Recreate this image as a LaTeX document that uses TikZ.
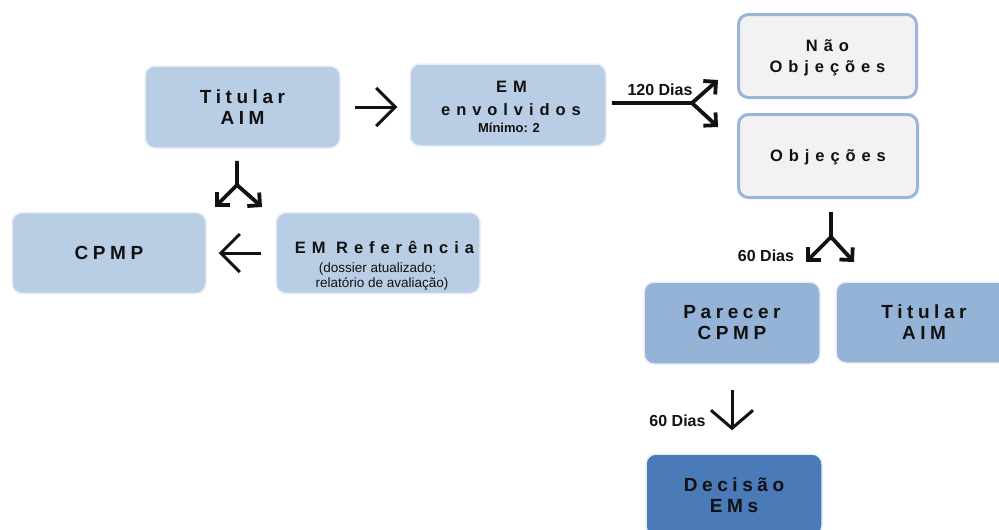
\documentclass[tikz,border=0pt]{standalone}
\usepackage{fontspec}
\setmainfont{Liberation Sans}
\newfontfamily\widefont[LetterSpace=24]{Liberation Sans}
\newfontfamily\widerfont[LetterSpace=36]{Liberation Sans}
\usetikzlibrary{arrows.meta}

\definecolor{boxlight}{HTML}{B9CDE5}
\definecolor{boxmid}{HTML}{95B3D7}
\definecolor{boxdark}{HTML}{4A7AB8}
\definecolor{boxgray}{HTML}{F2F2F2}
\definecolor{boxedge}{HTML}{9BB5D8}
\definecolor{halo}{HTML}{E9EFF7}
\definecolor{ink}{HTML}{111111}

\tikzset{
  box/.style={rectangle, rounded corners=10pt, inner sep=0pt, align=center,
    text=ink, draw=halo, line width=1.5pt},
  outlined/.style={box, fill=boxgray, draw=boxedge, line width=3pt},
  bigtext/.style={font=\widefont\bfseries\fontsize{19}{21}\selectfont},
  midtext/.style={font=\widerfont\bfseries\fontsize{16.5}{21}\selectfont, text=ink, inner sep=0pt},
  smalltext/.style={font=\fontsize{13.5}{14}\selectfont, text=ink, inner sep=0pt},
  daylabel/.style={font=\bfseries\fontsize{16}{16}\selectfont, text=ink, inner sep=0pt},
  thinarrow/.style={draw=ink, line width=3pt,
    -{Straight Barb[length=19pt,width=38pt,line join=miter,line cap=butt]}},
  fork/.style={draw=ink, line width=3.8pt},
  forktip/.style={-{Straight Barb[length=9pt,width=18pt,line join=miter,line cap=butt]}}
}

\begin{document}
\begin{tikzpicture}[x=1pt,y=-1pt]
\useasboundingbox (0,0) rectangle (999,530);
\clip (0,0) rectangle (999,530);

% boxes
\node[box, fill=boxlight, bigtext, minimum width=195pt, minimum height=82pt] (tit1) at (242.5,107) {Titular\\AIM};
\node[box, fill=boxlight, minimum width=196pt, minimum height=82pt] (emenv) at (508,105) {};
\node[box, fill=boxlight, bigtext, minimum width=194pt, minimum height=81pt] (cpmp) at (109,253) {CPMP};
\node[box, fill=boxlight, minimum width=204pt, minimum height=81pt] (emref) at (378,253) {};
\node[outlined, midtext, text depth=0pt, minimum width=178pt, minimum height=83pt] (nao) at (827.5,56) {Não\\Objeções};
\node[outlined, midtext, text depth=0pt, minimum width=179pt, minimum height=83pt] (obj) at (828,156) {Objeções};
\node[box, fill=boxmid, bigtext, minimum width=176pt, minimum height=82pt] (parecer) at (732,323) {Parecer\\CPMP};
\node[box, fill=boxmid, bigtext, minimum width=176pt, minimum height=81pt] (tit2) at (924,322.5) {Titular\\AIM};
\node[box, fill=boxdark, bigtext, minimum width=176pt, minimum height=82pt] (decisao) at (734,495) {Decisão\\EMs};

% texts set line by line
\node[midtext, anchor=base] (emenvA) at (511.5,92.7) {EM};
\node[midtext, anchor=base] (emenvB) at (511,115) {envolvidos};
\node[smalltext, font=\bfseries\fontsize{13}{14}\selectfont, anchor=base] (emenvC) at (509,132.3) {Mínimo: 2};
\node[midtext, anchor=base] (emrefA) at (384.5,253.3) {EM Referência};
\node[smalltext, anchor=base] (emrefB) at (377.5,272.7) {(dossier atualizado;};
\node[smalltext, anchor=base] (emrefC) at (382,287) {relatório de avaliação)};

% simple arrows
\draw[thinarrow, shorten <=14pt, shorten >=12pt] (tit1.east) -- (tit1.east -| emenv.west);
\draw[thinarrow, shorten <=14pt, shorten >=12pt] (emref.west) -- (emref.west -| cpmp.east);
\draw[thinarrow, -{Straight Barb[length=18pt,width=42pt,line join=miter,line cap=butt]},
  shorten <=25pt, shorten >=23pt] (parecer.south) -- (parecer.south |- decisao.north);

% forked arrows
\coordinate (j1) at (237,185);
\coordinate (j1l) at (215,207);
\coordinate (j1r) at (262,207);
\draw[fork, forktip, shorten <=12pt] (tit1.south -| j1) -- (j1) -- (j1l);
\draw[fork, forktip] (j1) -- (j1r);

\coordinate (j2) at (692,103);
\coordinate (j2u) at (718,80);
\coordinate (j2d) at (718,127);
\draw[fork, forktip, shorten <=5pt] (emenv.east |- j2) -- (j2) -- (j2u);
\draw[fork, forktip] (j2) -- (j2d);

\coordinate (j3) at (831,237);
\coordinate (j3l) at (806,262);
\coordinate (j3r) at (854,262);
\draw[fork, forktip, shorten <=13pt] (obj.south -| j3) -- (j3) -- (j3l);
\draw[fork, forktip] (j3) -- (j3r);

% durations
\node[daylabel, anchor=base] (d120) at (660,95.5) {120 Dias};
\node[daylabel, anchor=base] (d60a) at (766,261.5) {60 Dias};
\node[daylabel, anchor=base] (d60b) at (677.5,426.5) {60 Dias};
\end{tikzpicture}
\end{document}
